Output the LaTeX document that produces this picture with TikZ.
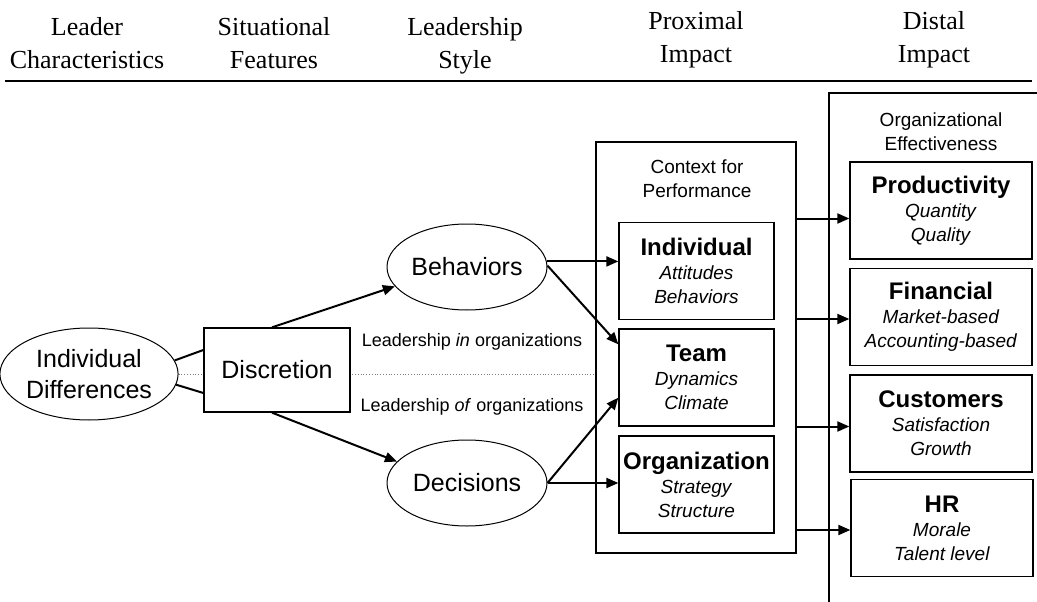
\documentclass[tikz,border=0pt]{standalone}
\usepackage{fontspec}
\setmainfont{Liberation Sans}
\newfontfamily\headfont{Liberation Serif}
\usetikzlibrary{positioning}
\usetikzlibrary{arrows.meta,shapes}
\usetikzlibrary{backgrounds}
\tikzstyle{oval}=[ellipse,draw,line width=1pt,fill=white,minimum width=160pt,minimum height=86pt,inner sep=0pt,align=center,font=\fontsize{25}{31}\selectfont]
\tikzstyle{outcome}=[rectangle,draw,line width=1.3pt,fill=white,minimum width=155pt,minimum height=97pt,inner sep=0pt,align=center,font=\fontsize{19}{24}\selectfont]
\tikzstyle{flow} = [draw,line width=2pt,-{Triangle[length=12pt,width=10pt]}]
\tikzstyle{undirected} = [draw,line width=2pt]
\tikzstyle{header}=[align=center,font=\headfont\fontsize{26}{33}\selectfont]
\tikzstyle{caption}=[align=center,font=\fontsize{19}{24}\selectfont]
\tikzstyle{remark}=[font=\fontsize{18}{20}\selectfont]
\newcommand{\outcometext}[3]{{\fontsize{24}{24}\selectfont\bfseries #1}\\ \textit{#2}\\ \textit{#3}}

\begin{document}
\begin{tikzpicture}[x=1pt,y=-1pt]
\useasboundingbox (0,0) rectangle (1037,602);

%column headers
  \foreach \pos/\name/\txt in {{(87,43)/hlead/{Leader\\Characteristics}}, {(274,43)/hsit/{Situational\\Features}}, {(465,46)/hstyle/{Leadership\\Style}}, {(696,40)/hprox/{Proximal\\Impact}}, {(934,40)/hdist/{Distal\\Impact}}}
        \node[header] (\name) at \pos {\txt};
    \coordinate (ruleleft) at (5,81);
    \coordinate (ruleright) at (1032,81);
    \draw[line width=1.5pt] (ruleleft) -- (ruleright);

% leader and style
    \node[oval, minimum height=92pt] (diff) at (89,374) {Individual\\Differences};
    \node[rectangle,draw,line width=1.3pt,fill=white,minimum width=146pt,minimum height=84pt,font=\fontsize{25}{30}\selectfont] (disc) at (277,370) {Discretion};
    \node[oval] (beh) at (467,267) {Behaviors};
    \node[oval] (dec) at (467,483) {Decisions};

    \node[remark] (lin) at (472,342) {Leadership \textit{in} organizations};
    \node[remark] (lof) at (472,407) {Leadership \textit{of} organizations};

% proximal impact
    \node[draw,line width=1.3pt,minimum width=200pt,minimum height=411pt] (ctx) at (696,347.5) {};
    \node[caption] (ctxlabel) at (697,179) {Context for\\Performance};

  \foreach \pos/\name/\title/\first/\second in {{(696.5,271)/ind/Individual/Attitudes/Behaviors}, {(696.5,377.5)/team/Team/Dynamics/Climate}, {(696.5,484.5)/org/Organization/Strategy/Structure}}
        \node[outcome] (\name) at \pos {\outcometext{\title}{\first}{\second}};

% distal impact
    \coordinate (efftop) at (1037,93);
    \coordinate (effcorner) at (829,93);
    \coordinate (effbottom) at (829,602);
    \draw[line width=1.3pt] (efftop) -- (effcorner) -- (effbottom);
    \node[caption] (efflabel) at (941,132) {Organizational\\Effectiveness};

  \foreach \pos/\name/\title/\first/\second in {{(941,210.5)/prod/Productivity/Quantity/Quality}, {(941,317)/fin/Financial/Market-based/Accounting-based}, {(941,423.5)/cust/Customers/Satisfaction/Growth}, {(942,528)/hr/HR/Morale/Talent level}}
        \node[outcome, minimum width=182pt] (\name) at \pos {\outcometext{\title}{\first}{\second}};

    % Connect nodes
    \begin{scope}[on background layer]
      \draw[gray, dotted, line width=0.8pt] (diff.east) -- (diff.east -| ctx.west);
    \end{scope}
    \path[undirected] (diff.9) -- ([yshift=20pt]disc.west);
    \path[undirected] (diff.-7) -- ([yshift=-23pt]disc.west);
    \path[flow] ([xshift=-5pt]disc.north) -- (beh.195);
    \path[flow] ([xshift=-5pt]disc.south) -- (dec.163);
    \path[flow] (beh.4) -- (beh.4 -| ind.west);
    \path[flow] (beh.1) -- ([yshift=-16pt]team.north west);
    \path[flow] (dec.east) -- ([yshift=29pt]team.south west);
    \path[flow] (dec.east) -- (dec.east -| org.west);

   \foreach \eff/\dy in {prod/-8, fin/-2, cust/-3, hr/-2}
          \path[flow] ([yshift=\dy pt]\eff.west -| ctx.east) -- ([yshift=\dy pt]\eff.west);

\end{tikzpicture}
\end{document}
